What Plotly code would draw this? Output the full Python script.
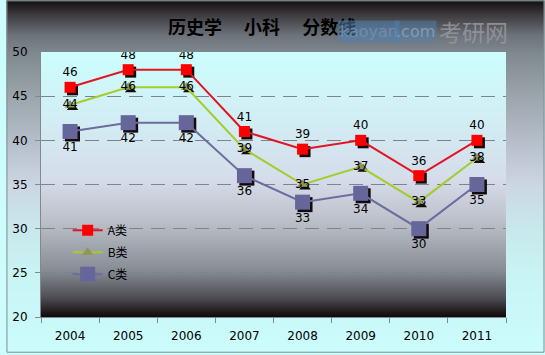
import base64
import struct
import zlib
import plotly.graph_objects as go

years = ["2004", "2005", "2006", "2007", "2008", "2009", "2010", "2011"]
a_vals = [46, 48, 48, 41, 39, 40, 36, 40]
b_vals = [44, 46, 46, 39, 35, 37, 33, 38]
c_vals = [41, 42, 42, 36, 33, 34, 30, 35]
y_ticks = [20, 25, 30, 35, 40, 45, 50]

W, H = 545, 355
L, R, T, B = 35, 39, 52, 36
pw, ph = W - L - R, H - T - B


def px2paper_x(px):
    return (px - L) / pw


def px2paper_y(py):
    return (H - B - py) / ph


def hex2rgb(h):
    h = h.lstrip("#")
    return tuple(int(h[i:i + 2], 16) for i in (0, 2, 4))


def interp(stops, t):
    for i in range(len(stops) - 1):
        t0, c0 = stops[i]
        t1, c1 = stops[i + 1]
        if t0 <= t <= t1:
            f = 0 if t1 == t0 else (t - t0) / (t1 - t0)
            a, b = hex2rgb(c0), hex2rgb(c1)
            return tuple(round(a[k] + (b[k] - a[k]) * f) for k in range(3))
    return hex2rgb(stops[-1][1])


def gradient_png(stops, height, width=2):
    raw = b""
    for r in range(height):
        c = interp(stops, (r + 0.5) / height)
        raw += b"\x00" + bytes(c) * width

    def chunk(tag, data):
        return (struct.pack(">I", len(data)) + tag + data
                + struct.pack(">I", zlib.crc32(tag + data) & 0xFFFFFFFF))

    png = (b"\x89PNG\r\n\x1a\n"
           + chunk(b"IHDR", struct.pack(">IIBBBBB", width, height, 8, 2, 0, 0, 0))
           + chunk(b"IDAT", zlib.compress(raw, 9))
           + chunk(b"IEND", b""))
    return "data:image/png;base64," + base64.b64encode(png).decode()


chart_stops = [(0, "#141010"), (0.04, "#3c3a3e"), (0.1, "#6e747c"), (0.15, "#808890"),
               (0.27, "#9ca4ac"), (0.39, "#b4bcc8"), (0.52, "#ccd6e2"), (0.65, "#c8e8ec"),
               (0.78, "#c8f4f4"), (1, "#ccfcfc")]
plot_stops = [(0, "#ccfefe"), (0.25, "#d2eef4"), (0.48, "#d6dcea"), (0.62, "#c0c4ce"),
              (0.67, "#b4b8c0"), (0.83, "#868a92"), (0.93, "#4c4c54"), (1, "#100808")]

images = [
    dict(source=gradient_png(chart_stops, H), xref="paper", yref="paper",
         x=px2paper_x(0), y=px2paper_y(0), sizex=W / pw, sizey=H / ph,
         sizing="stretch", xanchor="left", yanchor="top", layer="below"),
    dict(source=gradient_png(plot_stops, ph), xref="paper", yref="paper",
         x=0, y=1, sizex=1, sizey=1,
         sizing="stretch", xanchor="left", yanchor="top", layer="below"),
]

shapes = [dict(type="rect", xref="paper", yref="paper",
               x0=px2paper_x(0.5), x1=px2paper_x(W - 0.5), y0=px2paper_y(H - 0.5), y1=px2paper_y(0.5),
               line=dict(color="#7f8f8f", width=1), fillcolor="rgba(0,0,0,0)", layer="above")]

lab_font = dict(family="DejaVu Sans", size=12, color="black")

# shadow offset (pixels) for markers, through a shifted hidden axis pair
sh = 2.5
x_unit = len(years) / pw
y_unit = (y_ticks[-1] - y_ticks[0]) / ph
x_rng = [-0.5, len(years) - 0.5]
y_rng = [y_ticks[0], y_ticks[-1]]

fig = go.Figure()
for vals, sym, size in [(a_vals, "square", 11), (b_vals, "triangle-up", 10), (c_vals, "square", 15)]:
    fig.add_trace(go.Scatter(x=years, y=vals, mode="markers", showlegend=False, hoverinfo="skip",
                             marker=dict(symbol=sym, size=size, color="rgba(10,0,0,0.95)"),
                             xaxis="x", yaxis="y"))

fig.add_trace(go.Scatter(
    x=years, y=a_vals, name="A类", legendgroup="a", mode="lines+markers+text",
    text=[str(v) for v in a_vals], textposition="top center", textfont=lab_font,
    line=dict(color="#e01525", width=2),
    marker=dict(symbol="square", size=11, color="#ff0000", line=dict(width=0)),
    xaxis="x2", yaxis="y2"))
fig.add_trace(go.Scatter(
    x=years, y=b_vals, name="B类", legendgroup="b", mode="lines+markers+text",
    text=[str(v) for v in b_vals], textposition="middle center", textfont=lab_font,
    line=dict(color="#a4cc2c", width=2),
    marker=dict(symbol="triangle-up", size=10, color="#8e9658", line=dict(width=0)),
    xaxis="x2", yaxis="y2"))
fig.add_trace(go.Scatter(
    x=years, y=c_vals, name="C类", legendgroup="c", mode="lines+markers+text",
    text=[str(v) for v in c_vals], textposition="bottom center", textfont=lab_font,
    line=dict(color="#6c6c9e", width=2),
    marker=dict(symbol="square", size=15, color="#66669a", line=dict(width=0)),
    xaxis="x2", yaxis="y2"))

annotations = [
    dict(text="<b>历史学　 小科　 分数线</b>", xref="paper", yref="paper",
         x=px2paper_x(259), y=px2paper_y(26), xanchor="center", yanchor="middle", showarrow=False,
         font=dict(family="Noto Sans CJK SC", size=18, color="black")),
    dict(text="kaoyan", xref="paper", yref="paper", x=px2paper_x(367), y=px2paper_y(31),
         xanchor="center", yanchor="middle", showarrow=False, bgcolor="rgba(80,130,175,0.55)",
         font=dict(family="DejaVu Sans", size=16, color="rgba(110,140,175,1)")),
    dict(text=".com", xref="paper", yref="paper", x=px2paper_x(414), y=px2paper_y(31),
         xanchor="center", yanchor="middle", showarrow=False, bgcolor="rgba(80,130,175,0.45)",
         font=dict(family="DejaVu Sans", size=16, color="rgba(130,155,180,1)")),
    dict(text="考研网", xref="paper", yref="paper", x=px2paper_x(473), y=px2paper_y(31),
         xanchor="center", yanchor="middle", showarrow=False,
         font=dict(family="Noto Sans CJK SC", size=23, color="rgba(150,150,155,0.9)")),
]

tickfont = dict(family="DejaVu Sans", size=12, color="black")
fig.update_layout(
    width=W, height=H,
    margin=dict(l=L, r=R, t=T, b=B),
    paper_bgcolor="#ccfcfc", plot_bgcolor="rgba(0,0,0,0)",
    shapes=shapes, annotations=annotations, images=images,
    showlegend=True,
    legend=dict(x=px2paper_x(62), y=px2paper_y(217), xanchor="left", yanchor="top",
                bgcolor="rgba(0,0,0,0)", font=dict(family="Noto Sans CJK SC", size=12, color="black"),
                itemwidth=30, tracegroupgap=3),
    xaxis=dict(type="category", range=[x_rng[0] - sh * x_unit, x_rng[1] - sh * x_unit],
               visible=False, showgrid=False, zeroline=False),
    yaxis=dict(range=[y_rng[0] + sh * y_unit, y_rng[1] + sh * y_unit],
               visible=False, showgrid=False, zeroline=False),
    xaxis2=dict(type="category", overlaying="x", side="bottom", range=x_rng,
                tickson="boundaries", ticks="outside", ticklen=5, ticklabelstandoff=8,
                tickcolor="#808890", showline=True, linecolor="#808890", linewidth=1,
                showgrid=False, tickfont=tickfont),
    yaxis2=dict(overlaying="y", side="left", range=y_rng, tickvals=y_ticks, ticks="outside", ticklen=5,
                ticklabelstandoff=5,
                tickcolor="#808890", showline=True, linecolor="#808890", linewidth=1,
                showgrid=True, gridcolor="#7c8490", griddash="14px,8px", gridwidth=1,
                zeroline=False, tickfont=tickfont),
)

fig.write_html("out.html")
